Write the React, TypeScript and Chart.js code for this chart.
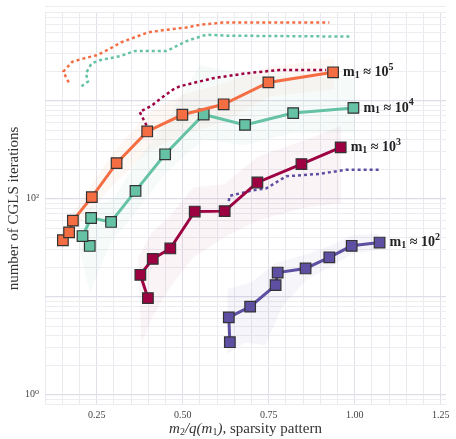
import { useEffect, useRef } from "react";
import { Chart, registerables } from "chart.js";

Chart.register(...registerables);

// ---- data ----
const orangeX = [0.152, 0.17, 0.181, 0.236, 0.308, 0.397, 0.499, 0.619, 0.749, 0.937];
const orangeY = [37.6, 45.2, 59.6, 103.5, 230, 484, 716, 916, 1531, 1941];
const tealX = [0.23, 0.209, 0.234, 0.292, 0.363, 0.449, 0.561, 0.681, 0.821, 0.996];
const tealY = [32.9, 41.5, 63.4, 57.8, 119.7, 283, 721, 565, 745, 841];
const crimsonX = [0.399, 0.377, 0.413, 0.464, 0.535, 0.622, 0.717, 0.845, 0.959];
const crimsonY = [9.66, 16.7, 24.3, 31.0, 73.8, 74.5, 146, 225, 333];
const purpleX = [0.637, 0.634, 0.696, 0.77, 0.776, 0.857, 0.926, 0.991, 1.072];
const purpleY = [3.43, 6.14, 7.91, 13.1, 17.6, 19.4, 25.2, 33.0, 35.6];

const orangeDotX = [0.169, 0.153, 0.179, 0.211, 0.25, 0.283, 0.322, 0.366, 0.399, 0.443, 0.511, 0.549, 0.616, 0.926];
const orangeDotY = [1531, 1972, 2483, 2679, 2897, 3296, 3936, 4487, 4955, 5224, 5559, 5916, 6237, 6237];
const tealDotX = [0.206, 0.225, 0.219, 0.235, 0.259, 0.317, 0.361, 0.453, 0.515, 0.569, 0.627, 0.989];
const tealDotY = [1396, 1567, 1897, 2388, 2582, 2831, 3199, 3199, 4092, 4699, 4592, 4487];
const crimsonDotX = [0.395, 0.375, 0.409, 0.433, 0.472, 0.491, 0.588, 0.685, 0.781, 0.917];
const crimsonDotY = [556, 767, 881, 1028, 1294, 1396, 1690, 1897, 2049, 2049];
const purpleDotX = [0.634, 0.636, 0.665, 0.704, 0.743, 0.762, 0.801, 0.897, 0.975, 1.076];
const purpleDotY = [94.4, 106.7, 112.7, 121.6, 127, 139.6, 169, 178.6, 197, 197];

// shaded spread regions: [x, y] pairs
const orangeBandUpper = [[0.15, 45], [0.2, 90], [0.3, 300], [0.4, 750], [0.5, 1150], [0.62, 1500], [0.75, 2200], [0.94, 2700]];
const orangeBandLower = [[0.15, 30], [0.2, 55], [0.3, 140], [0.4, 300], [0.5, 450], [0.62, 600], [0.75, 1100], [0.94, 1300]];
const tealBandUpper = [[0.2, 45], [0.23, 80], [0.3, 100], [0.36, 220], [0.45, 600], [0.55, 2300], [0.7, 1800], [1.0, 1700]];
const tealBandLower = [[0.2, 30], [0.23, 11], [0.29, 35], [0.36, 70], [0.45, 180], [0.56, 400], [0.68, 350], [0.82, 470], [1.0, 470]];
const crimsonBandUpper = [[0.37, 25], [0.41, 45], [0.46, 65], [0.53, 130], [0.62, 140], [0.72, 270], [0.85, 390], [0.96, 550]];
const crimsonBandLower = [[0.38, 3.3], [0.41, 6], [0.46, 12], [0.53, 25], [0.62, 40], [0.72, 60], [0.85, 80], [0.96, 90]];
const purpleBandUpper = [[0.63, 12], [0.7, 14], [0.77, 22], [0.86, 27], [0.93, 33], [0.99, 42], [1.07, 44]];
const purpleBandLower = [[0.63, 2.6], [0.68, 3.4], [0.74, 3.2], [0.79, 8], [0.86, 15], [0.93, 20], [0.99, 27], [1.07, 30]];

const seriesLabels = ["5", "4", "3", "2"];
const yTickLabels: Record<number, string> = { 1: "10\u2070", 100: "10\u00b2" };
const xTickLabels = [0.25, 0.5, 0.75, 1.0, 1.25];

// ---- styles ----
const ORANGE = "#f46d43";
const TEAL = "#66c2a5";
const CRIMSON = "#9e0142";
const PURPLE = "#5e4fa2";
const SERIF = '"Liberation Serif", "DejaVu Serif", serif';

const zip = (xs: number[], ys: number[]) => xs.map((x, i) => ({ x, y: ys[i] }));

function richText(ctx: CanvasRenderingContext2D, x: number, y: number, segs: { t: string; f: string; dy?: number }[]) {
  let cx = x;
  segs.forEach((s) => {
    ctx.font = s.f;
    ctx.fillText(s.t, cx, y + (s.dy || 0));
    cx += ctx.measureText(s.t).width;
  });
  return cx - x;
}

const bandPlugin = {
  id: "bands",
  beforeDatasetsDraw(chart: any) {
    const { ctx, chartArea, scales } = chart;
    const xs = scales.x;
    const ys = scales.y;
    const bands = [
      { u: orangeBandUpper, l: orangeBandLower, c: "rgba(244,109,67,0.05)" },
      { u: tealBandUpper, l: tealBandLower, c: "rgba(102,194,165,0.06)" },
      { u: crimsonBandUpper, l: crimsonBandLower, c: "rgba(158,1,66,0.045)" },
      { u: purpleBandUpper, l: purpleBandLower, c: "rgba(94,79,162,0.06)" },
    ];
    ctx.save();
    ctx.beginPath();
    ctx.rect(chartArea.left, chartArea.top, chartArea.right - chartArea.left, chartArea.bottom - chartArea.top);
    ctx.clip();
    bands.forEach((b) => {
      ctx.beginPath();
      b.u.forEach((p, i) => {
        const px = xs.getPixelForValue(p[0]);
        const py = ys.getPixelForValue(p[1]);
        if (i === 0) ctx.moveTo(px, py);
        else ctx.lineTo(px, py);
      });
      [...b.l].reverse().forEach((p) => {
        ctx.lineTo(xs.getPixelForValue(p[0]), ys.getPixelForValue(p[1]));
      });
      ctx.closePath();
      ctx.fillStyle = b.c;
      ctx.fill();
    });
    ctx.restore();
  },
};

const textPlugin = {
  id: "texts",
  afterDatasetsDraw(chart: any) {
    const { ctx, chartArea } = chart;
    ctx.save();
    ctx.fillStyle = "#222";
    ctx.textBaseline = "middle";
    // series labels next to last markers
    [0, 1, 2, 3].forEach((di, k) => {
      const meta = chart.getDatasetMeta(di);
      const pt = meta.data[meta.data.length - 1];
      const big = `bold 14px ${SERIF}`;
      const small = `bold 10px ${SERIF}`;
      richText(ctx, pt.x + 10, pt.y, [
        { t: "m", f: big },
        { t: "1", f: small, dy: 3 },
        { t: " \u2248 10", f: big },
        { t: seriesLabels[k], f: small, dy: -5 },
      ]);
    });
    // x axis title
    const it = `italic 15px ${SERIF}`;
    const sub = `10px ${SERIF}`;
    const rm = `15px ${SERIF}`;
    const segs = [
      { t: "m", f: it },
      { t: "2", f: sub, dy: 3 },
      { t: "/q(m", f: it },
      { t: "1", f: sub, dy: 3 },
      { t: "),", f: it },
      { t: " sparsity pattern", f: rm },
    ];
    let w = 0;
    segs.forEach((s) => {
      ctx.font = s.f;
      w += ctx.measureText(s.t).width;
    });
    ctx.fillStyle = "#333";
    const cxm = (chartArea.left + chartArea.right) / 2;
    richText(ctx, cxm - w / 2, 429, segs);
    // y axis title
    ctx.translate(14, (chartArea.top + chartArea.bottom) / 2);
    ctx.rotate(-Math.PI / 2);
    ctx.textAlign = "center";
    ctx.font = `15px ${SERIF}`;
    ctx.fillText("number of CGLS iterations", 0, 0);
    ctx.restore();
  },
};

export default function App() {
  const ref = useRef<HTMLCanvasElement>(null);
  useEffect(() => {
    document.body.style.margin = "0";
    const lineDs = (label: string, xs: number[], ys: number[], color: string) => ({
      label,
      data: zip(xs, ys),
      borderColor: color,
      backgroundColor: color,
      borderWidth: 3,
      pointStyle: "rect",
      pointRadius: 7.5,
      pointBorderColor: "#333",
      pointBorderWidth: 1.2,
      pointBackgroundColor: color,
      showLine: true,
      fill: false,
      order: 1,
    });
    const dotDs = (label: string, xs: number[], ys: number[], color: string) => ({
      label,
      data: zip(xs, ys),
      borderColor: color,
      borderWidth: 2.5,
      borderDash: [3, 3],
      pointRadius: 0,
      showLine: true,
      fill: false,
      order: 2,
    });
    const chart = new Chart(ref.current!, {
      type: "line",
      data: {
        datasets: [
          lineDs("1e5", orangeX, orangeY, ORANGE),
          lineDs("1e4", tealX, tealY, TEAL),
          lineDs("1e3", crimsonX, crimsonY, CRIMSON),
          lineDs("1e2", purpleX, purpleY, PURPLE),
          dotDs("1e5 dotted", orangeDotX, orangeDotY, ORANGE),
          dotDs("1e4 dotted", tealDotX, tealDotY, TEAL),
          dotDs("1e3 dotted", crimsonDotX, crimsonDotY, CRIMSON),
          dotDs("1e2 dotted", purpleDotX, purpleDotY, PURPLE),
        ] as any,
      },
      options: {
        responsive: false,
        animation: false,
        layout: { padding: { top: 4, right: 10, left: 0, bottom: 0 } },
        plugins: { legend: { display: false }, tooltip: { enabled: false } },
        scales: {
          x: {
            type: "linear",
            min: 0.1,
            max: 1.265,
            border: { display: false },
            grid: {
              drawTicks: false,
              color: (c: any) => {
                const v = c.tick ? c.tick.value : 0;
                return Math.abs(v / 0.25 - Math.round(v / 0.25)) < 1e-6 ? "#e0e0e8" : "#eaeaef";
              },
              lineWidth: 1,
            },
            afterBuildTicks: (s: any) => {
              const t = [];
              for (let i = 2; i <= 25; i++) t.push({ value: i * 0.05 });
              s.ticks = t;
            },
            afterFit: (s: any) => {
              s.height = 34;
            },
            ticks: {
              autoSkip: false,
              maxRotation: 0,
              padding: 4,
              color: "#444",
              font: { family: SERIF, size: 10 },
              callback: (v: any) => {
                const hit = xTickLabels.find((t) => Math.abs(t - v) < 1e-6);
                return hit !== undefined ? hit.toFixed(2) : "";
              },
            },
          },
          y: {
            type: "logarithmic",
            min: 0.785,
            max: 8000,
            border: { display: false },
            grid: {
              drawTicks: false,
              color: (c: any) => {
                const v = c.tick ? c.tick.value : 0;
                const l = Math.log10(v);
                return Math.abs(l - Math.round(l)) < 1e-6 ? "#dddde8" : "#ececf1";
              },
              lineWidth: (c: any) => {
                const v = c.tick ? c.tick.value : 0;
                const l = Math.log10(v);
                return Math.abs(l - Math.round(l)) < 1e-6 ? 1.2 : 1;
              },
            },
            afterBuildTicks: (s: any) => {
              const t = [];
              for (let d = 0; d < 4; d++) for (let m = 1; m <= 9; m++) t.push({ value: m * Math.pow(10, d) });
              t.unshift({ value: 0.8 }, { value: 0.9 });
              s.ticks = t;
            },
            afterFit: (s: any) => {
              s.width = 45;
            },
            ticks: {
              autoSkip: false,
              padding: 6,
              color: "#444",
              font: { family: SERIF, size: 10 },
              callback: (v: any) => yTickLabels[v as number] || "",
            },
          },
        },
      },
      plugins: [bandPlugin, textPlugin],
    });
    return () => chart.destroy();
  }, []);
  return <canvas ref={ref} width={456} height={439} style={{ display: "block" }} />;
}
